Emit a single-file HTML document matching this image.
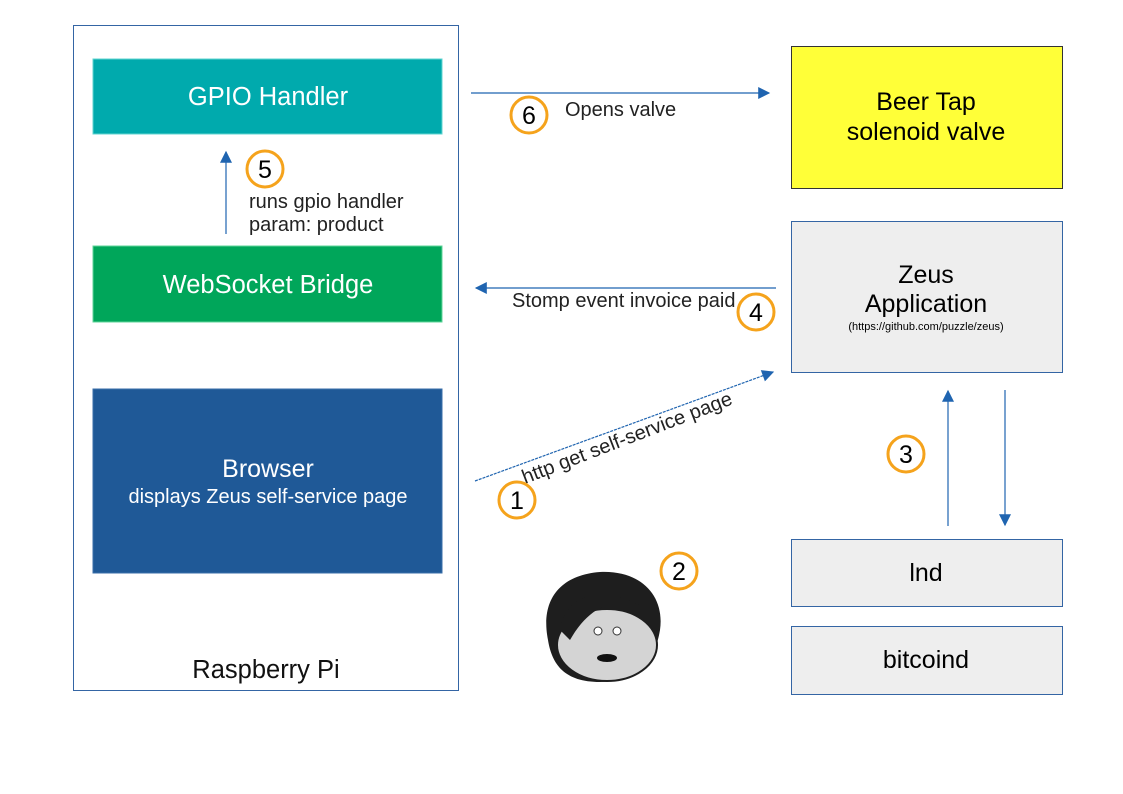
<!DOCTYPE html>
<html><head><meta charset="utf-8"><style>html,body{margin:0;padding:0;background:#fff}svg{display:block}text{font-family:"Liberation Sans",sans-serif}</style></head><body>
<svg width="1123" height="794" viewBox="0 0 1123 794">
<defs><marker id="a" viewBox="0 0 10 10" refX="9" refY="5" markerWidth="18" markerHeight="12" markerUnits="userSpaceOnUse" orient="auto"><path d="M0,0L10,5L0,10z" fill="#1f64b0"/></marker></defs>
<rect x="73.5" y="25.5" width="385" height="665" fill="#fff" stroke="#3465a4"/>
<text x="266" y="678" font-size="25.5" text-anchor="middle" fill="#111">Raspberry Pi</text>
<rect x="93" y="59" width="349" height="75" fill="#00aaad" stroke="#5fd4d0"/>
<text x="268" y="105" font-size="25.5" text-anchor="middle" fill="#fff">GPIO Handler</text>
<rect x="93" y="246" width="349" height="76" fill="#00a65a" stroke="#5fd49a"/>
<text x="268" y="293" font-size="25.5" text-anchor="middle" fill="#fff">WebSocket Bridge</text>
<rect x="93" y="389" width="349" height="184" fill="#1f5997" stroke="#3a6ea8"/>
<text x="268" y="477" font-size="25" text-anchor="middle" fill="#fff">Browser</text>
<text x="268" y="503" font-size="20" text-anchor="middle" fill="#fff">displays Zeus self-service page</text>
<rect x="791.5" y="46.5" width="271" height="142" fill="#ffff38" stroke="#333"/>
<text x="926" y="110" font-size="25" text-anchor="middle" fill="#000">Beer Tap</text>
<text x="926" y="140" font-size="25" text-anchor="middle" fill="#000">solenoid valve</text>
<rect x="791.5" y="221.5" width="271" height="151" fill="#eeeeee" stroke="#3465a4"/>
<text x="926" y="283" font-size="25" text-anchor="middle" fill="#000">Zeus</text>
<text x="926" y="312" font-size="25" text-anchor="middle" fill="#000">Application</text>
<text x="926" y="330" font-size="11" text-anchor="middle" fill="#000">(https://github.com/puzzle/zeus)</text>
<rect x="791.5" y="539.5" width="271" height="67" fill="#eeeeee" stroke="#3465a4"/>
<text x="926" y="581" font-size="25" text-anchor="middle" fill="#000">lnd</text>
<rect x="791.5" y="626.5" width="271" height="68" fill="#eeeeee" stroke="#3465a4"/>
<text x="926" y="668" font-size="25" text-anchor="middle" fill="#000">bitcoind</text>
<g stroke="#1f64b0" stroke-width="1.2" fill="none">
<line x1="471" y1="93" x2="769" y2="93" marker-end="url(#a)"/>
<line x1="776" y1="288" x2="476" y2="288" marker-end="url(#a)"/>
<line x1="475" y1="481" x2="773" y2="372" marker-end="url(#a)" stroke-dasharray="3,1"/>
<line x1="226" y1="234" x2="226" y2="152" marker-end="url(#a)"/>
<line x1="948" y1="526" x2="948" y2="391" marker-end="url(#a)"/>
<line x1="1005" y1="390" x2="1005" y2="525" marker-end="url(#a)"/>
</g>
<text x="565" y="116" font-size="20" fill="#222">Opens valve</text>
<text x="512" y="307" font-size="20" fill="#222">Stomp event invoice paid</text>
<text x="249" y="208" font-size="20" fill="#222">runs gpio handler</text>
<text x="249" y="231" font-size="20" fill="#222">param: product</text>
<text x="0" y="0" font-size="20" fill="#222" transform="translate(525,484) rotate(-21)">http get self-service page</text>
<g fill="#fff" stroke="#f5a31c" stroke-width="3">
<circle cx="529" cy="115" r="18"/><circle cx="265" cy="169" r="18"/><circle cx="756" cy="312" r="18"/>
<circle cx="517" cy="500" r="18"/><circle cx="679" cy="571" r="18"/><circle cx="906" cy="454" r="18"/>
</g>
<g font-size="25" text-anchor="middle" fill="#000">
<text x="529" y="124">6</text><text x="265" y="178">5</text><text x="756" y="321">4</text>
<text x="517" y="509">1</text><text x="679" y="580">2</text><text x="906" y="463">3</text>
</g>
<g>
<path d="M548,640 C540,600 560,575 600,572 C640,570 665,595 660,630 C655,660 640,680 600,682 C565,682 552,665 548,640z" fill="#1e1e1e"/>
<ellipse cx="607" cy="645" rx="50" ry="36" fill="#d4d4d4" stroke="#1e1e1e" stroke-width="2"/>
<path d="M560,630 C565,595 600,585 640,605 C615,598 590,605 570,640z" fill="#1e1e1e"/>
<circle cx="598" cy="631" r="4" fill="#fff" stroke="#333"/><circle cx="617" cy="631" r="4" fill="#fff" stroke="#333"/>
<ellipse cx="607" cy="658" rx="10" ry="4" fill="#111"/>
</g>
</svg>
</body></html>
